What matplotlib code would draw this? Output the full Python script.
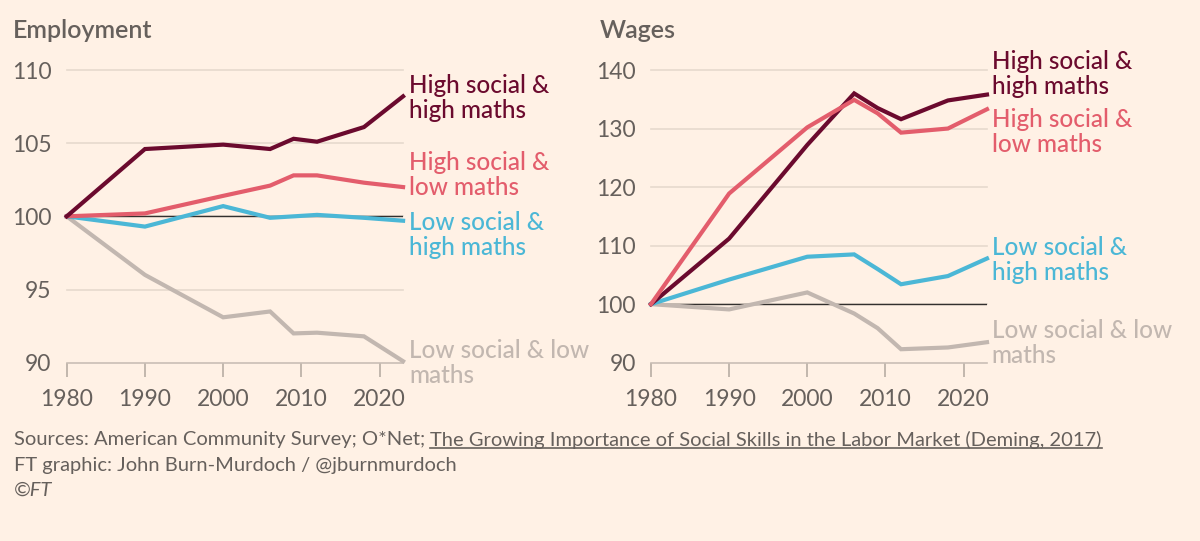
import matplotlib
matplotlib.use("Agg")
import matplotlib.pyplot as plt

plt.rcParams['font.family'] = ['Lato', 'DejaVu Sans']

BG = '#FFF1E5'
TEXT = '#66605C'
GRID = '#E6D9CE'

years = [1980, 1990, 2000, 2006, 2009, 2012, 2018, 2023]

# Employment index (1980 = 100)
emp_hs_hm = [100, 104.6, 104.9, 104.6, 105.3, 105.1, 106.1, 108.2]
emp_hs_lm = [100, 100.2, 101.4, 102.1, 102.8, 102.8, 102.3, 102.0]
emp_ls_hm = [100, 99.3, 100.7, 99.9, 100.0, 100.1, 99.9, 99.7]
emp_ls_lm = [100, 96.0, 93.1, 93.5, 92.0, 92.05, 91.8, 90.1]

# Wages index (1980 = 100)
wage_hs_hm = [100, 111.2, 127.2, 136.0, 133.5, 131.6, 134.8, 135.8]
wage_hs_lm = [100, 118.9, 130.2, 134.9, 132.6, 129.3, 130.0, 133.3]
wage_ls_hm = [100, 104.2, 108.1, 108.5, 106.0, 103.4, 104.8, 107.8]
wage_ls_lm = [100, 99.1, 102.0, 98.4, 95.9, 92.3, 92.6, 93.5]

series_names = ['High social &\nhigh maths', 'High social &\nlow maths',
                'Low social &\nhigh maths', 'Low social & low\nmaths']
colors = ['#6B0A2E', '#E35D6C', '#4BB7D6', '#C2B7B0']

emp_label_y = [108.1, 102.8, 98.75, 89.95]
wage_label_y = [139.3, 129.4, 107.5, 93.4]

fig = plt.figure(figsize=(12, 5.41), dpi=100, facecolor=BG)

ax1 = fig.add_axes([0.0556, 0.3296, 0.2803, 0.541])
ax2 = fig.add_axes([0.5425, 0.3296, 0.280, 0.541])


def style_axis(ax, yticks):
    ax.set_facecolor(BG)
    ax.set_xlim(1980, 2023)
    ax.set_ylim(yticks[0], yticks[-1])
    ax.set_yticks(yticks)
    ax.set_xticks([1980, 1990, 2000, 2010, 2020])
    for t in yticks[1:]:
        ax.axhline(t, color=GRID, lw=1.2, zorder=0, clip_on=False)
    for s in ['top', 'right', 'left']:
        ax.spines[s].set_visible(False)
    ax.spines['bottom'].set_color('#C9BEB5')
    ax.spines['bottom'].set_linewidth(1.2)
    ax.tick_params(axis='y', length=0, pad=11, labelsize=16.5, labelcolor=TEXT)
    ax.tick_params(axis='x', length=10, width=1.2, color='#B8ADA4', pad=9,
                   labelsize=16.5, labelcolor=TEXT)
    ax.axhline(100, color='#33302E', lw=1.0, zorder=1)


style_axis(ax1, [90, 95, 100, 105, 110])
style_axis(ax2, [90, 100, 110, 120, 130, 140])

emp = [emp_hs_hm, emp_hs_lm, emp_ls_hm, emp_ls_lm]
wage = [wage_hs_hm, wage_hs_lm, wage_ls_hm, wage_ls_lm]

# draw grey first so coloured lines sit on top
for i in [3, 2, 1, 0]:
    ax1.plot(years, emp[i], color=colors[i], lw=3.0, zorder=3,
             solid_joinstyle='miter', clip_on=False)
for i in [3, 2, 0, 1]:
    ax2.plot(years, wage[i], color=colors[i], lw=3.0, zorder=3,
             solid_joinstyle='miter', clip_on=False)

for i in range(4):
    ax1.text(2023.8, emp_label_y[i], series_names[i], color=colors[i],
             fontsize=17.5, fontweight='medium', va='center', ha='left',
             linespacing=1.1)
    ax2.text(2023.6, wage_label_y[i], series_names[i], color=colors[i],
             fontsize=17.5, fontweight='medium', va='center', ha='left',
             linespacing=1.1)

fig.text(0.0105, 0.944, 'Employment', fontsize=18, fontweight='semibold',
         color=TEXT, va='center', ha='left')
fig.text(0.5, 0.944, 'Wages', fontsize=18, fontweight='semibold',
         color=TEXT, va='center', ha='left')

src = fig.text(0.0117, 1 - 440 / 541,
               'Sources: American Community Survey; O*Net; ',
               fontsize=14.5, color=TEXT, va='center', ha='left')
fig.canvas.draw()
r = fig.canvas.get_renderer()
bb = src.get_window_extent(renderer=r)
link = fig.text(bb.x1 / 1200, 1 - 440 / 541,
                'The Growing Importance of Social Skills in the Labor Market (Deming, 2017)',
                fontsize=14.5, color=TEXT, va='center', ha='left')
lb = link.get_window_extent(renderer=r)
fig.add_artist(plt.Line2D([lb.x0 / 1200, lb.x1 / 1200],
                          [(lb.y0 + 1) / 541, (lb.y0 + 1) / 541],
                          color=TEXT, lw=1.2))

fig.text(0.0117, 1 - 465 / 541, 'FT graphic: John Burn-Murdoch / @jburnmurdoch',
         fontsize=14.5, color=TEXT, va='center', ha='left')
fig.text(0.0117, 1 - 490 / 541, '©FT', fontsize=14.5, color=TEXT,
         va='center', ha='left', style='italic')

fig.savefig('out.png', dpi=100, facecolor=BG)
